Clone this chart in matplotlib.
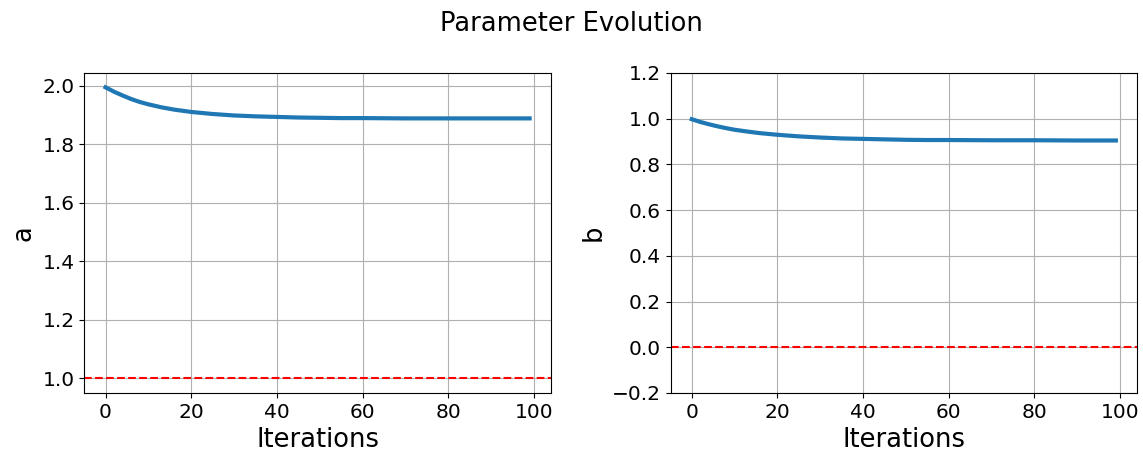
import matplotlib
matplotlib.use('Agg')
import matplotlib.pyplot as plt

iters = [0, 2, 4, 6, 8, 10, 13, 16, 20, 25, 30, 35, 40, 45, 50, 55, 60, 70, 80, 90, 99]
a_vals = [1.994, 1.979, 1.966, 1.954, 1.944, 1.936, 1.926, 1.918, 1.910, 1.903,
          1.898, 1.895, 1.893, 1.891, 1.890, 1.889, 1.889, 1.888, 1.888, 1.888, 1.888]
b_vals = [0.997, 0.985, 0.975, 0.966, 0.958, 0.951, 0.943, 0.936, 0.929, 0.922,
          0.917, 0.913, 0.911, 0.909, 0.907, 0.906, 0.906, 0.905, 0.905, 0.904, 0.904]
a_true = 1.0
b_true = 0.0

fig, (ax1, ax2) = plt.subplots(1, 2, figsize=(11.43, 4.55), dpi=100)
fig.suptitle('Parameter Evolution', fontsize=18.5, y=0.975)

ax1.plot(iters, a_vals, color='#1f77b4', lw=3)
ax1.axhline(a_true, color='red', ls='--', lw=1.5)
ax1.set_ylabel('a', fontsize=18.5)

ax2.plot(iters, b_vals, color='#1f77b4', lw=3)
ax2.axhline(b_true, color='red', ls='--', lw=1.5)
ax2.set_ylabel('b', fontsize=18.5)
ax2.set_ylim(-0.2, 1.2)

for ax in (ax1, ax2):
    ax.set_xlabel('Iterations', fontsize=18.5)
    ax.tick_params(labelsize=14.5)
    ax.grid(True)

fig.subplots_adjust(left=0.0738, right=0.9948, bottom=0.1363, top=0.840, wspace=0.2567)
fig.savefig('out.png', dpi=100)
